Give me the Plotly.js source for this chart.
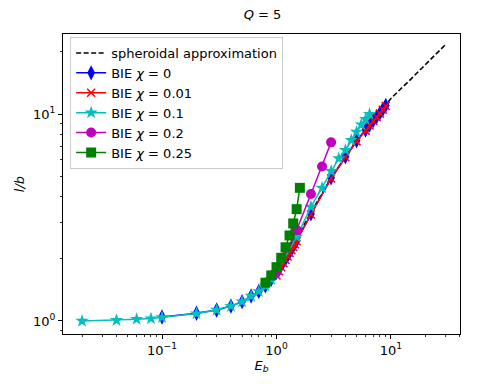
<!DOCTYPE html>
<html>
<head>
<meta charset="utf-8">
<script src="https://cdn.plot.ly/plotly-3.0.1.min.js"></script>
<style>
  html, body { margin: 0; padding: 0; background: #fff; }
  #plot { width: 499px; height: 384px; }
</style>
</head>
<body>
<div id="plot"></div>
<script>
// Data
const spheroidE = [1.5, 2, 3, 5, 7, 10, 15, 20, 30];
const spheroidL = [2.5, 3.35, 4.9, 7.4, 9.3, 11.9, 14.8, 17.4, 21.7];

const chi0E = [0.1, 0.2, 0.3, 0.4, 0.5, 0.6, 0.7, 0.8, 0.9, 1.0, 1.05, 1.1, 1.15, 1.2, 1.25, 1.3, 1.35, 1.4, 1.45, 1.5, 2, 3, 4, 5, 6, 6.5, 7, 7.5, 8, 8.5, 9];
const chi0L = [1.045, 1.09, 1.13, 1.18, 1.24, 1.32, 1.39, 1.48, 1.59, 1.72, 1.79, 1.86, 1.93, 2.0, 2.07, 2.15, 2.22, 2.3, 2.37, 2.45, 3.3, 4.92, 6.22, 7.43, 8.37, 8.85, 9.3, 9.7, 10.1, 10.55, 11.0];

const chi001E = [1.0, 1.05, 1.1, 1.15, 1.2, 1.25, 1.3, 1.35, 1.4, 1.45, 1.5, 2, 3, 4, 5, 6, 6.5, 7, 7.5, 8, 8.5, 9];
const chi001L = [1.66, 1.74, 1.82, 1.9, 1.97, 2.05, 2.13, 2.2, 2.28, 2.35, 2.43, 3.27, 4.88, 6.18, 7.38, 8.32, 8.8, 9.25, 9.65, 10.05, 10.5, 10.95];

const chi01E = [0.02, 0.04, 0.06, 0.08, 0.1, 0.2, 0.3, 0.4, 0.5, 0.6, 0.7, 0.8, 0.9, 1.0, 1.5, 2.0, 2.5, 3.0, 3.5, 4.0, 4.5, 5.0, 5.5, 6.0, 6.5];
const chi01L = [1.0, 1.008, 1.02, 1.027, 1.04, 1.086, 1.13, 1.18, 1.24, 1.32, 1.39, 1.48, 1.59, 1.72, 2.55, 3.56, 4.4, 5.3, 6.1, 6.7, 7.47, 8.2, 8.9, 9.45, 10.0];

const chi02E = [1.0, 1.5, 2.0, 2.5, 3.0];
const chi02L = [1.72, 2.75, 4.11, 5.58, 7.3];

const chi025E = [0.8, 0.9, 1.0, 1.1, 1.2, 1.3, 1.4, 1.5, 1.6];
const chi025L = [1.53, 1.66, 1.82, 2.02, 2.27, 2.59, 2.96, 3.47, 4.4];

const xMajor = [0.1, 1, 10];
const xMajorText = ['10<sup>−1</sup>', '10<sup>0</sup>', '10<sup>1</sup>'];
const xMinor = [0.02, 0.03, 0.04, 0.05, 0.06, 0.07, 0.08, 0.09,
                0.2, 0.3, 0.4, 0.5, 0.6, 0.7, 0.8, 0.9,
                2, 3, 4, 5, 6, 7, 8, 9, 20, 30, 40];
const yMajor = [1, 10];
const yMajorText = ['10<sup>0</sup>', '10<sup>1</sup>'];
const yMinor = [0.9, 2, 3, 4, 5, 6, 7, 8, 9, 20];

const FONT = 'DejaVu Sans, sans-serif';

function series(x, y, name, color, symbol, size, extra) {
    return Object.assign({
        x: x, y: y, name: name,
        mode: 'lines+markers',
        line: { color: color, width: 1.5 },
        marker: { color: color, symbol: symbol, size: size, line: { width: 0 } }
    }, extra || {});
}

const traces = [
    {
        x: spheroidE, y: spheroidL, name: 'spheroidal approximation',
        mode: 'lines',
        line: { color: 'black', width: 1.6, dash: '5px,2.5px' }
    },
    series(chi0E, chi0L, 'BIE <i>χ</i> = 0', '#0000ff', 'diamond-tall', 11),
    series(chi001E, chi001L, 'BIE <i>χ</i> = 0.01', '#ff0000', 'x-thin-open', 8,
        { marker: { color: '#ff0000', symbol: 'x-thin-open', size: 8, line: { color: '#ff0000', width: 1.5 } } }),
    series(chi01E, chi01L, 'BIE <i>χ</i> = 0.1', '#00bfbf', 'star', 10),
    series(chi02E, chi02L, 'BIE <i>χ</i> = 0.2', '#bf00bf', 'circle', 10),
    series(chi025E, chi025L, 'BIE <i>χ</i> = 0.25', '#008000', 'square', 10)
];

const axisCommon = {
    type: 'log',
    showgrid: false,
    zeroline: false,
    showline: true,
    mirror: true,
    linecolor: 'black',
    linewidth: 1,
    ticks: 'outside',
    ticklen: 4,
    tickwidth: 1,
    tickcolor: 'black',
    tickmode: 'array',
    tickfont: { family: FONT, size: 13, color: 'black' }
};

const layout = {
    width: 499,
    height: 384,
    paper_bgcolor: 'white',
    plot_bgcolor: 'white',
    font: { family: FONT, size: 13, color: 'black' },
    margin: { l: 63, r: 39, t: 34, b: 50 },
    title: {
        text: '<i>Q</i> = 5',
        font: { family: FONT, size: 13, color: 'black' },
        x: 0.526, xanchor: 'center',
        y: 0.963, yanchor: 'middle'
    },
    xaxis: Object.assign({}, axisCommon, {
        range: [-1.865, 1.603],
        tickvals: xMajor,
        ticktext: xMajorText,
        minor: { tickmode: 'array', tickvals: xMinor, ticks: 'outside', ticklen: 2, tickcolor: 'black', tickwidth: 0.8 },
        title: { text: '<i>E<sub>b</sub></i>', font: { family: FONT, size: 13 }, standoff: 0 }
    }),
    yaxis: Object.assign({}, axisCommon, {
        range: [-0.063, 1.387],
        tickvals: yMajor,
        ticktext: yMajorText,
        minor: { tickmode: 'array', tickvals: yMinor, ticks: 'outside', ticklen: 2, tickcolor: 'black', tickwidth: 0.8 },
        title: { text: '<i>l/b</i>', font: { family: FONT, size: 13 }, standoff: 5 }
    }),
    showlegend: true,
    legend: {
        x: 0.018, y: 0.99, xanchor: 'left', yanchor: 'top',
        bgcolor: 'rgba(255,255,255,0.8)',
        bordercolor: '#cccccc',
        borderwidth: 1,
        font: { family: FONT, size: 13, color: 'black' },
        tracegroupgap: 0,
        itemwidth: 30
    }
};

Plotly.newPlot('plot', traces, layout, { staticPlot: true, displayModeBar: false });
</script>
</body>
</html>
